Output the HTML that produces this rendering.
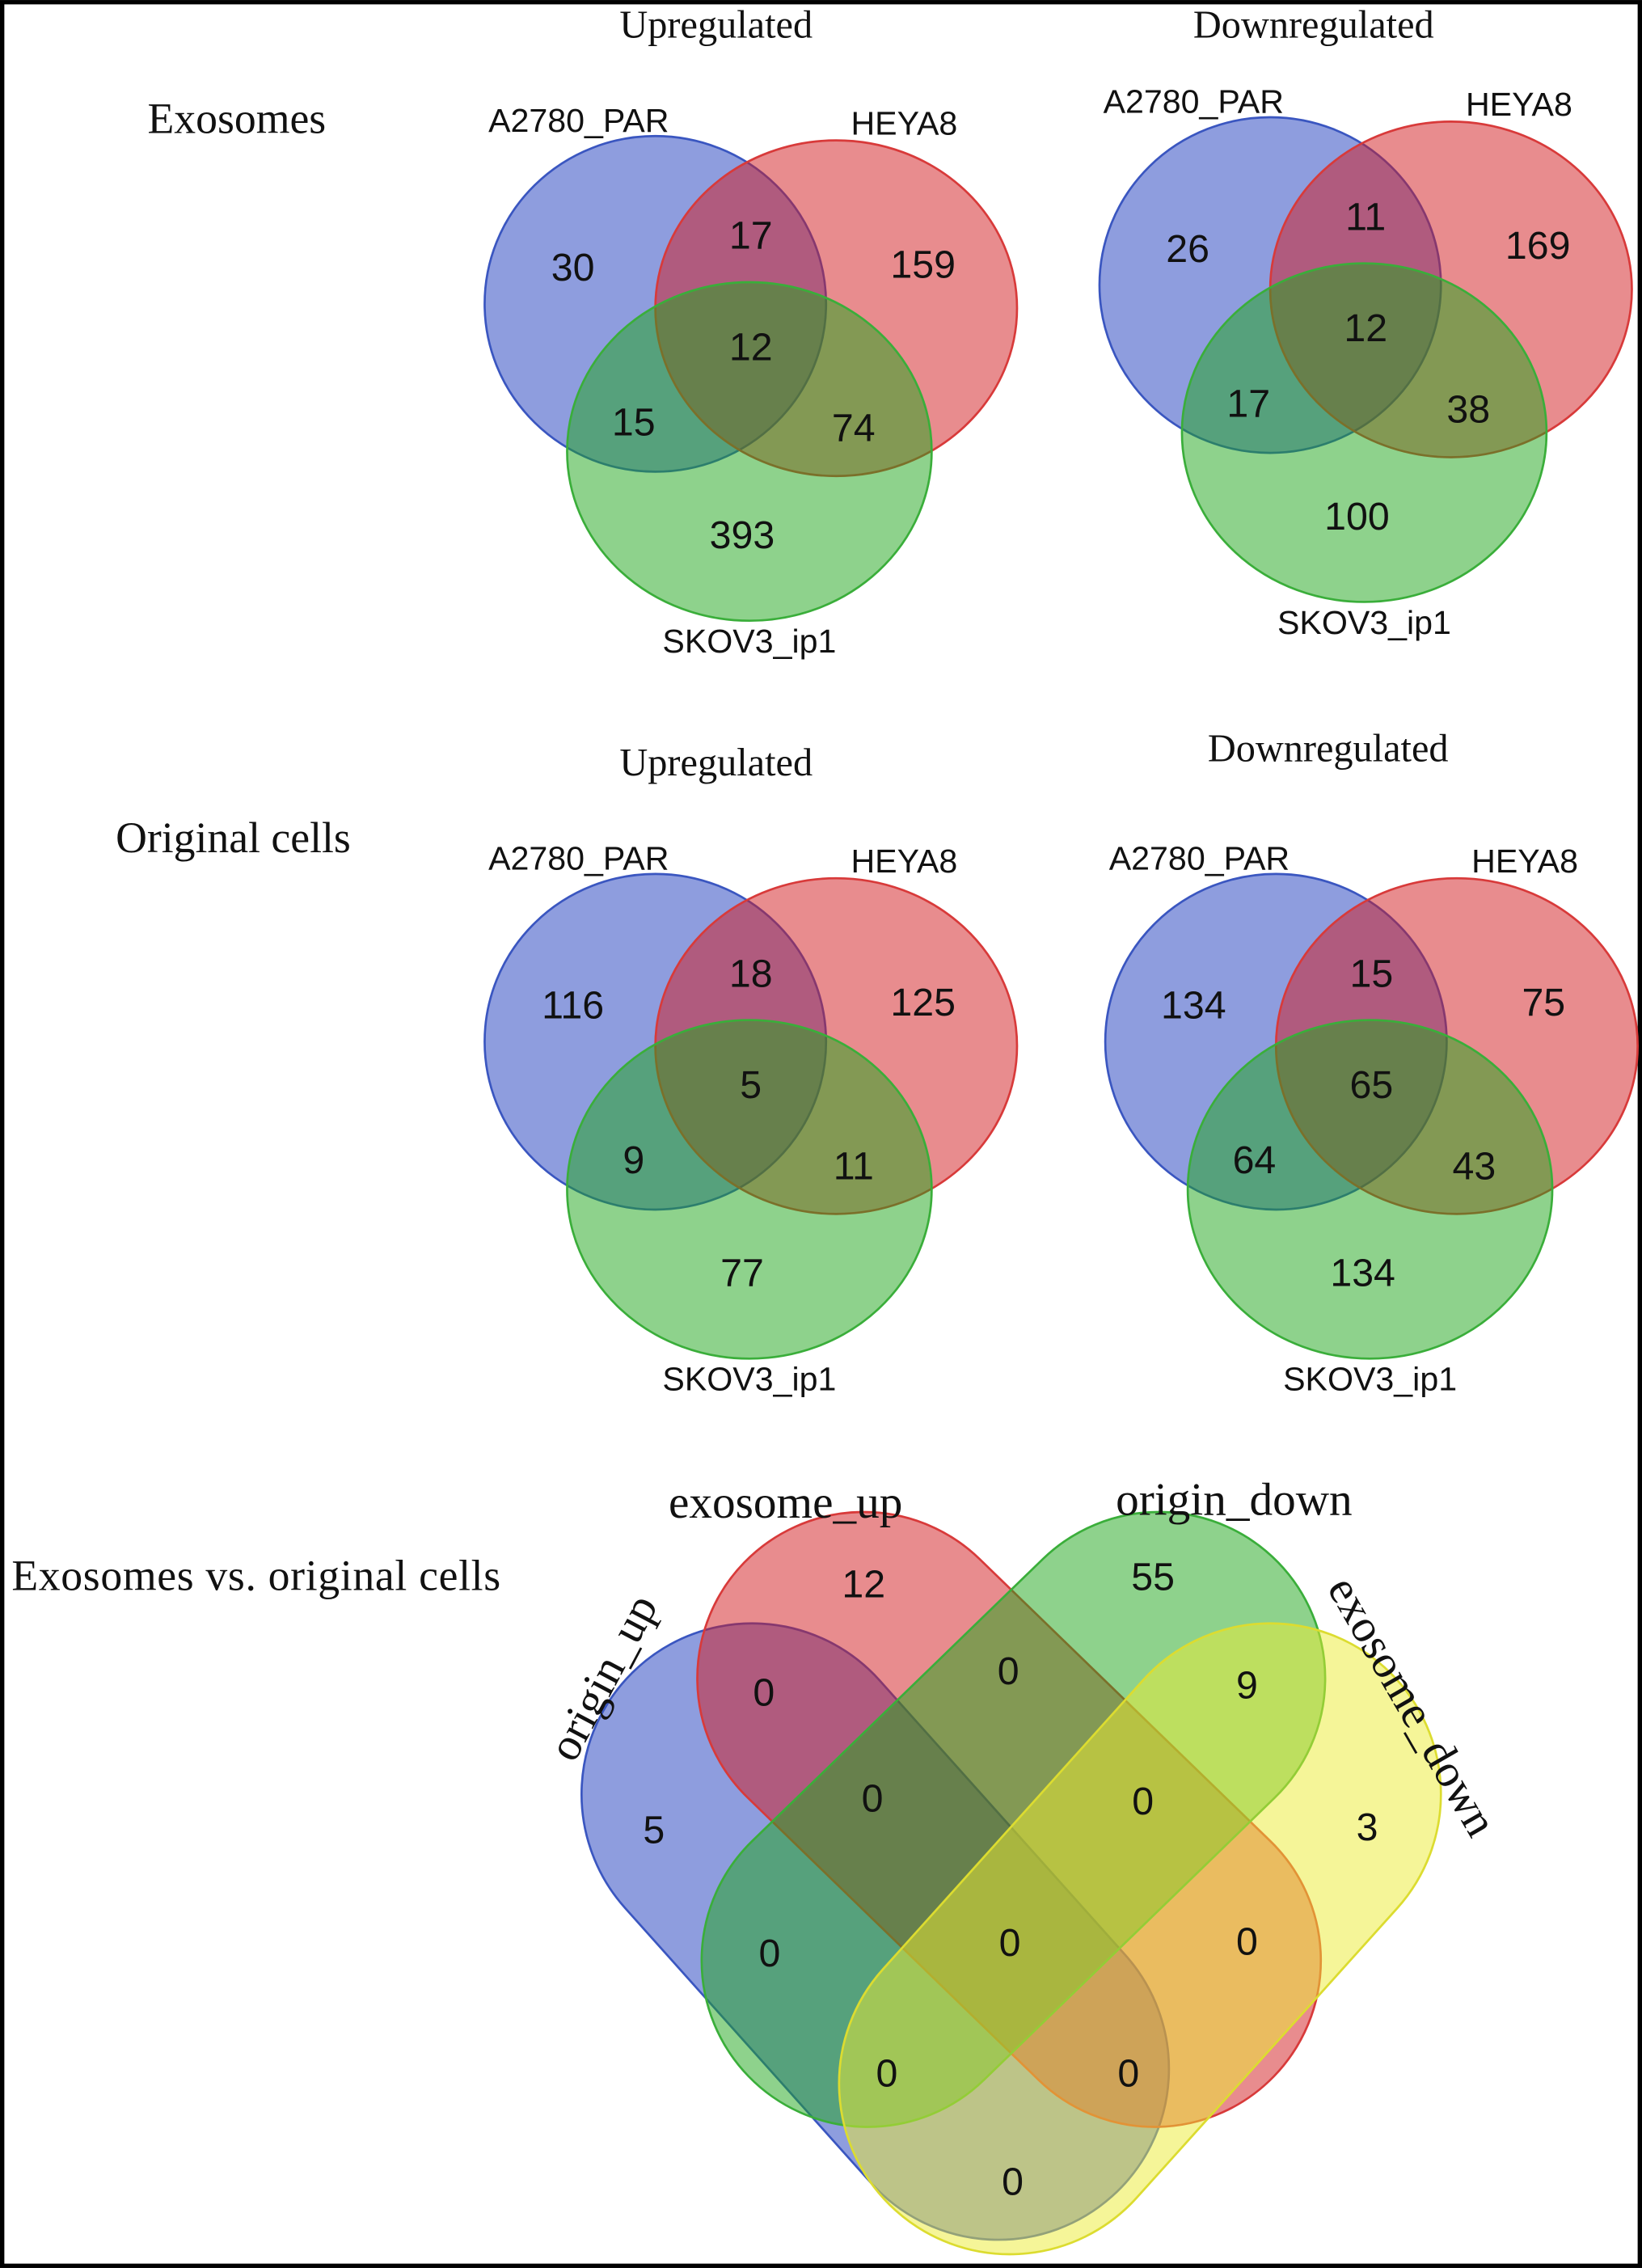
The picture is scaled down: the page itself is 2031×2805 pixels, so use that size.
<!DOCTYPE html>
<html><head><meta charset="utf-8"><style>
html,body{margin:0;padding:0;background:#fff;}
svg{display:block;}
.num{font-family:"Liberation Sans",sans-serif;font-size:27px;fill:#111;text-anchor:middle;dominant-baseline:central;}
.set{font-family:"Liberation Sans",sans-serif;font-size:23px;fill:#111;text-anchor:middle;}
.ser{font-family:"Liberation Serif",serif;fill:#111;}
</style></head><body>
<svg id="fig" width="2031" height="2805" viewBox="0 0 1135 1567.5" xmlns="http://www.w3.org/2000/svg">
<rect x="1.5" y="1.5" width="1132" height="1564.5" fill="#fff" stroke="#000" stroke-width="3"/>
<text class="ser" x="102" y="92" font-size="30">Exosomes</text>
<text class="ser" x="80" y="589" font-size="30">Original cells</text>
<text class="ser" x="8" y="1099" font-size="30" textLength="338">Exosomes vs. original cells</text>
<g id="panels"></g>
<g id="four"></g>
</svg>
<script>
const NS="http://www.w3.org/2000/svg";
// ---- 3-set Venn data: [A only, AB, B only, ABC, AC, BC, C only]
const setNames3=["A2780_PAR","HEYA8","SKOV3_ip1"];
const panelTitles=["Upregulated","Downregulated","Upregulated","Downregulated"];
const exoUp=[30,17,159,12,15,74,393];
const exoDown=[26,11,169,12,17,38,100];
const origUp=[116,18,125,5,9,11,77];
const origDown=[134,15,75,65,64,43,134];
// ---- 4-set Venn data
const setNames4=["origin_up","exosome_up","origin_down","exosome_down"];
const four=[12,55,0,0,9,5,0,0,3,0,0,0,0,0,0];

const panelValues=[exoUp,exoDown,origUp,origDown];
const panelGeo=[
 {x:0,y:0,title:[495,18]},
 {x:425,y:-13,title:[908,18]},
 {x:0,y:510,title:[495,528]},
 {x:429,y:510,title:[918,518]}
];
const cols=[["rgba(30,60,190,0.5)","#3a56c0"],["rgba(210,25,30,0.5)","#d83a3a"],["rgba(30,165,25,0.5)","#3aae3a"],["rgba(235,235,50,0.5)","#dcdc30"]];
const ell=[[453,210,118,116],[578,213,125,116],[518,312,126,117]];
const numPos=[[396,185],[519,163],[638,183],[519,240],[438,292],[590,296],[513,370]];
const labPos=[[400,91],[625,93],[518,451]];
const pg=document.getElementById('panels');
panelValues.forEach((vals,p)=>{
  const g=panelGeo[p];
  const grp=document.createElementNS(NS,'g');
  
  
  pg.appendChild(grp);
  const t=document.createElementNS(NS,'text');
  t.setAttribute('class','ser');t.setAttribute('x',g.title[0]);t.setAttribute('y',g.title[1]+8);
  t.setAttribute('font-size','27');t.setAttribute('text-anchor','middle');
  t.textContent=panelTitles[p];
  
  
  grp.appendChild(t);
  ell.forEach((e,i)=>{
    const el=document.createElementNS(NS,'ellipse');
    el.setAttribute('cx',e[0]+g.x);el.setAttribute('cy',e[1]+g.y);
    el.setAttribute('rx',e[2]);el.setAttribute('ry',e[3]);
    el.setAttribute('fill',cols[i][0]);el.setAttribute('stroke',cols[i][1]);el.setAttribute('stroke-width','1.5');
    
    
    grp.appendChild(el);
  });
  labPos.forEach((l,i)=>{
    const tx=document.createElementNS(NS,'text');
    tx.setAttribute('class','set');tx.setAttribute('x',l[0]+g.x);tx.setAttribute('y',l[1]+g.y);
    tx.textContent=setNames3[i];
    
    
    grp.appendChild(tx);
  });
  vals.forEach((v,i)=>{
    const tx=document.createElementNS(NS,'text');
    tx.setAttribute('class','num');tx.setAttribute('x',numPos[i][0]+g.x);tx.setAttribute('y',numPos[i][1]+g.y);
    tx.textContent=v;
    
    
    grp.appendChild(tx);
  });
});
// ---- 4-set capsules
const fg=document.getElementById('four');
const caps=[[520,1240,690,1430,118],[597,1160,798,1355,115],[801,1160,600,1355,115],[878,1240,698,1440,118]];
caps.forEach((c,i)=>{
  const dx=c[2]-c[0],dy=c[3]-c[1],len=Math.hypot(dx,dy),ang=Math.atan2(dy,dx)*180/Math.PI,r=c[4];
  const rc=document.createElementNS(NS,'rect');
  rc.setAttribute('x',-r);rc.setAttribute('y',-r);rc.setAttribute('width',len+2*r);rc.setAttribute('height',2*r);
  rc.setAttribute('rx',r);rc.setAttribute('ry',r);
  rc.setAttribute('transform',`translate(${c[0]},${c[1]}) rotate(${ang})`);
  rc.setAttribute('fill',cols[i][0]);rc.setAttribute('stroke',cols[i][1]);rc.setAttribute('stroke-width','1.5');
  
  
  fg.appendChild(rc);
});
const fourPos=[[597,1095],[797,1090],[528,1170],[697,1155],[862,1165],[452,1265],[603,1243],[790,1245],[945,1263],[532,1350],[698,1343],[862,1342],[613,1433],[780,1433],[700,1508]];
four.forEach((v,i)=>{
  const tx=document.createElementNS(NS,'text');
  tx.setAttribute('class','num');tx.setAttribute('x',fourPos[i][0]);tx.setAttribute('y',fourPos[i][1]);
  tx.textContent=v;
  
  
  fg.appendChild(tx);
});
const lab4=[[418,1160,-62],[543,1040,0],[853,1038,0],[975,1180,60]];
lab4.forEach((l,i)=>{
  const tx=document.createElementNS(NS,'text');
  tx.setAttribute('class','ser');tx.setAttribute('font-size','32');tx.setAttribute('text-anchor','middle');
  tx.setAttribute('transform',`translate(${l[0]},${l[1]}) rotate(${l[2]})`);
  tx.setAttribute('y','9');
  tx.textContent=setNames4[i];
  
  
  fg.appendChild(tx);
});
</script>
</body></html>
